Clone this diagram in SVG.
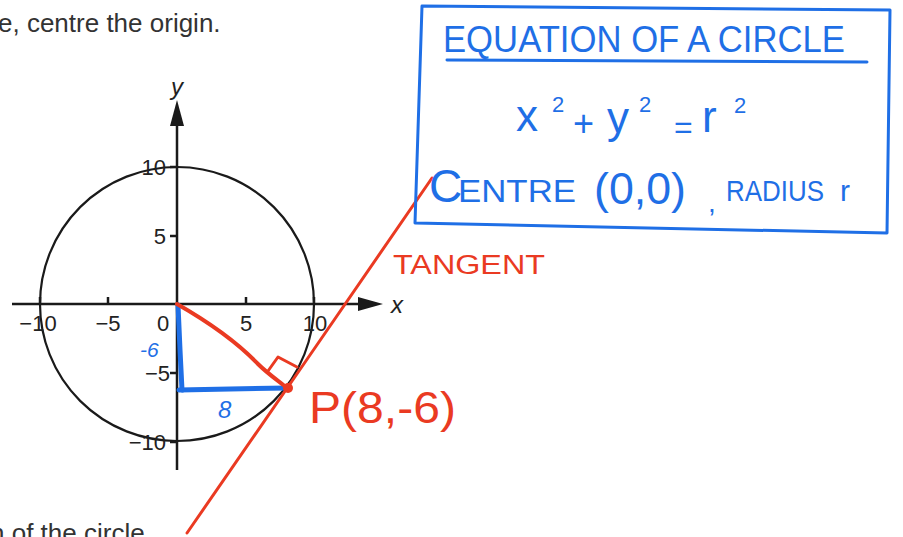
<svg xmlns="http://www.w3.org/2000/svg" width="903" height="537" viewBox="0 0 903 537">
<style>
.prt{font-family:"Liberation Sans",Arial,sans-serif;fill:#333}
.tick{font-family:"Liberation Sans",Arial,sans-serif;font-size:22px;fill:#222}
.ax{stroke:#1a1a1a;stroke-width:2.5;fill:none}
.blue{stroke:#1f6fe6;fill:none;stroke-linecap:round;stroke-linejoin:round}
.red{stroke:#ea3a22;fill:none;stroke-linecap:round;stroke-linejoin:round}
.bt{font-family:"Liberation Sans",Arial,sans-serif;fill:#1f6fe6}
.rt{font-family:"Liberation Sans",Arial,sans-serif;fill:#ea3a22}
</style>
<rect width="903" height="537" fill="#fff"/>
<text class="prt" x="-2" y="32" font-size="26">e, centre the origin.</text>
<text class="prt" x="-10" y="542" font-size="26">n of the circle</text>

<g id="axes">
<circle cx="177" cy="304" r="137" fill="none" stroke="#1a1a1a" stroke-width="2.2"/>
<line class="ax" x1="12" y1="304" x2="365" y2="304"/>
<polygon points="383,304 358,297 358,311" fill="#1a1a1a"/>
<line class="ax" x1="177" y1="470" x2="177" y2="120"/>
<polygon points="177,100 170,126 184,126" fill="#1a1a1a"/>
<g class="ax" stroke-width="2">
<line x1="40" y1="304" x2="40" y2="297"/>
<line x1="108" y1="304" x2="108" y2="297"/>
<line x1="246" y1="304" x2="246" y2="297"/>
<line x1="314" y1="304" x2="314" y2="297"/>
<line x1="170" y1="167" x2="177" y2="167"/>
<line x1="170" y1="236" x2="177" y2="236"/>
<line x1="170" y1="373" x2="177" y2="373"/>
<line x1="170" y1="442" x2="177" y2="442"/>
</g>
<text x="177" y="95" font-family="Liberation Sans,Arial,sans-serif" font-style="italic" font-size="24" text-anchor="middle" fill="#222">y</text>
<text x="397" y="313" font-family="Liberation Sans,Arial,sans-serif" font-style="italic" font-size="24" text-anchor="middle" fill="#222">x</text>
<text class="tick" x="38" y="331" text-anchor="middle">−10</text>
<text class="tick" x="108" y="331" text-anchor="middle">−5</text>
<text class="tick" x="163" y="331" text-anchor="middle">0</text>
<text class="tick" x="246" y="331" text-anchor="middle">5</text>
<text class="tick" x="315" y="331" text-anchor="middle">10</text>
<text class="tick" x="166" y="175" text-anchor="end">10</text>
<text class="tick" x="166" y="244" text-anchor="end">5</text>
<text class="tick" x="170" y="381" text-anchor="end">−5</text>
<text class="tick" x="166" y="450" text-anchor="end">−10</text>
</g>

<g id="triangle">
<path class="blue" stroke-width="5" d="M178,305 L180,350 L182,390"/>
<path class="blue" stroke-width="5" d="M179,390 L230,389 L287,388"/>
<text class="bt" x="140" y="357" font-size="21" font-style="italic">-6</text>
<text class="bt" x="218" y="418" font-size="24" font-style="italic">8</text>
</g>

<g id="radius">
<path class="red" stroke-width="4" d="M177,304 C205,320 235,340 258,364 C268,374 280,382 287,388"/>
<circle cx="288" cy="388" r="5" fill="#ea3a22"/>
<path class="red" stroke-width="3" d="M268,371 L278,357 L297,367"/>
</g>

<g id="tangent">
<path class="red" stroke-width="3" d="M187,533 L310,355 L432,178"/>
<text class="rt" x="393" y="274" font-size="27" textLength="152" lengthAdjust="spacingAndGlyphs">TANGENT</text>
<text class="rt" x="309" y="423" font-size="44" textLength="147" lengthAdjust="spacingAndGlyphs">P(8,-6)</text>
</g>

<g id="formula-box">
<path class="blue" stroke-width="3" d="M422,6 L890,10 L887,233 L415,223 Z"/>
<line class="blue" stroke-width="3" x1="447" y1="60" x2="867" y2="62"/>
<text class="bt" x="443" y="52" font-size="36" textLength="402" lengthAdjust="spacingAndGlyphs">EQUATION OF A CIRCLE</text>
<text class="bt" x="516" y="131" font-size="44">x</text>
<text class="bt" x="552" y="112" font-size="22">2</text>
<text class="bt" x="573" y="136" font-size="36">+</text>
<text class="bt" x="607" y="133" font-size="44">y</text>
<text class="bt" x="639" y="112" font-size="22">2</text>
<text class="bt" x="674" y="138" font-size="32">=</text>
<text class="bt" x="702" y="132" font-size="44">r</text>
<text class="bt" x="734" y="113" font-size="22">2</text>
<text class="bt" x="429" y="202" font-size="46">C</text>
<text class="bt" x="458" y="202" font-size="32" textLength="118" lengthAdjust="spacingAndGlyphs">ENTRE</text>
<text class="bt" x="594" y="204" font-size="44" textLength="92" lengthAdjust="spacingAndGlyphs">(0,0)</text>
<text class="bt" x="708" y="212" font-size="28">,</text>
<text class="bt" x="726" y="201" font-size="30" textLength="98" lengthAdjust="spacingAndGlyphs">RADIUS</text>
<text class="bt" x="840" y="201" font-size="30">r</text>
</g>
</svg>
